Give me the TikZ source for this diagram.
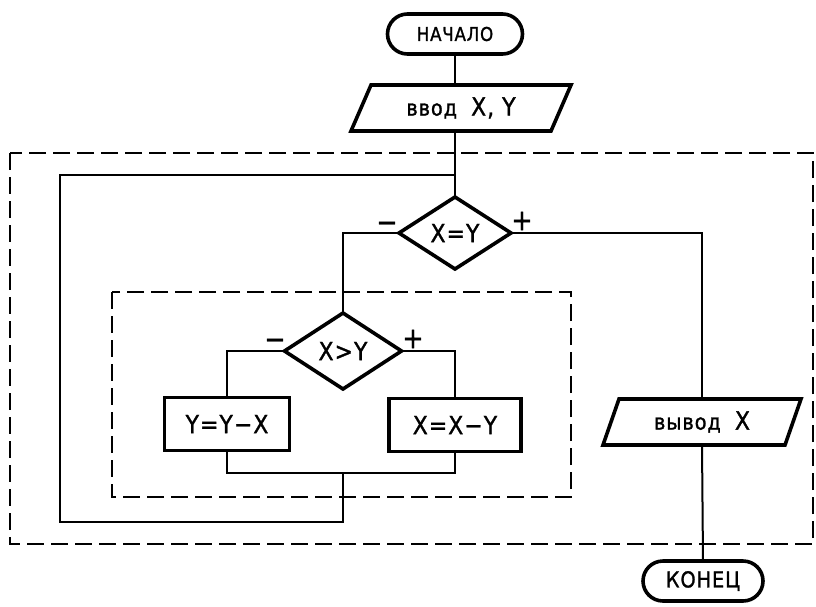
\documentclass[tikz,border=0pt]{standalone}
\usepackage{fontspec}
\setmainfont{DejaVu Sans}
\newfontfamily\gost[FakeStretch=0.88,FakeBold=1.2,LetterSpace=4]{DejaVu Sans}
\usetikzlibrary{shapes.geometric,calc}
\begin{document}
\begin{tikzpicture}[x=1pt,y=-1pt,
  every node/.style={inner sep=0pt,outer sep=0pt},
  box/.style={line width=3.6pt},
  terminal/.style={draw,box,rounded corners=20pt,minimum height=40pt},
  proc/.style={draw,box,rectangle,minimum height=53pt},
  io/.style={rectangle,minimum height=46pt},
  decision/.style={draw,box,diamond},
  conn/.style={line width=2pt},
  frame/.style={line width=2pt,dash pattern=on 17pt off 7pt},
  sign/.style={font=\gost\fontsize{29}{29}\selectfont},
  big/.style={font=\gost\fontsize{25}{25}\selectfont},
  mid/.style={font=\gost\fontsize{22}{22}\selectfont}]
\useasboundingbox (0,0) rectangle (816,606);

% dashed loop frames
\draw[frame] (10,153) rectangle (813,544);
\draw[frame] (112,292) rectangle (571,497);

% blocks
\node[terminal,minimum width=135pt,font=\gost\fontsize{19}{19}\selectfont] (start) at (455,34) {НАЧАЛО};
\node[io,minimum width=200pt,mid] (input) at (461,108)
  {ввод\ \ {\fontsize{25}{25}\selectfont X, Y}};
\draw[box] ($(input.north west)+(10,0)$) -- ($(input.north east)+(10,0)$)
  -- ($(input.south east)+(-10,0)$) -- ($(input.south west)+(-10,0)$) -- cycle;
\node[decision,minimum width=112pt,minimum height=72pt,big] (eq) at (455,233) {X=Y};
\node[decision,minimum width=117pt,minimum height=76pt,big] (gt) at (343,351) {X>Y};
\node[proc,minimum width=125pt,big] (suby) at (227,424) {Y=Y−X};
\node[proc,minimum width=132pt,big] (subx) at (455,425) {X=X−Y};
\node[io,minimum width=182pt,mid] (output) at (702,422)
  {вывод\ \ {\fontsize{25}{25}\selectfont X}};
\draw[box] ($(output.north west)+(8,0)$) -- ($(output.north east)+(8,0)$)
  -- ($(output.south east)+(-8,0)$) -- ($(output.south west)+(-8,0)$) -- cycle;
\node[terminal,minimum width=120pt,font=\gost\fontsize{22}{22}\selectfont] (end) at (703,581) {КОНЕЦ};

% branch signs
\node[sign] (eqno) at (387,227) {−};
\node[sign] (eqyes) at (522,221) {+};
\node[sign] (gtno) at (275,344) {−};
\node[sign] (gtyes) at (413,339) {+};

% connectors
\coordinate (entry) at (455,175);
\coordinate (merge) at (343,473);
\coordinate (back) at (60,522);
\draw[conn] (start.south) -- (start.south |- input.north);
\draw[conn] (start.south |- input.south) -- (eq.north);
\draw[conn] (eq.west) -| (gt.north);
\draw[conn] (eq.east) -| (output.north);
\draw[conn] (gt.west) -| (suby.north);
\draw[conn] (gt.east) -| (subx.north);
\draw[conn] (suby.south) |- (merge) -| (subx.south);
\draw[conn] (merge) |- (back) |- (entry);
\draw[conn] (output.south) -- (end.north);
\end{tikzpicture}
\end{document}
